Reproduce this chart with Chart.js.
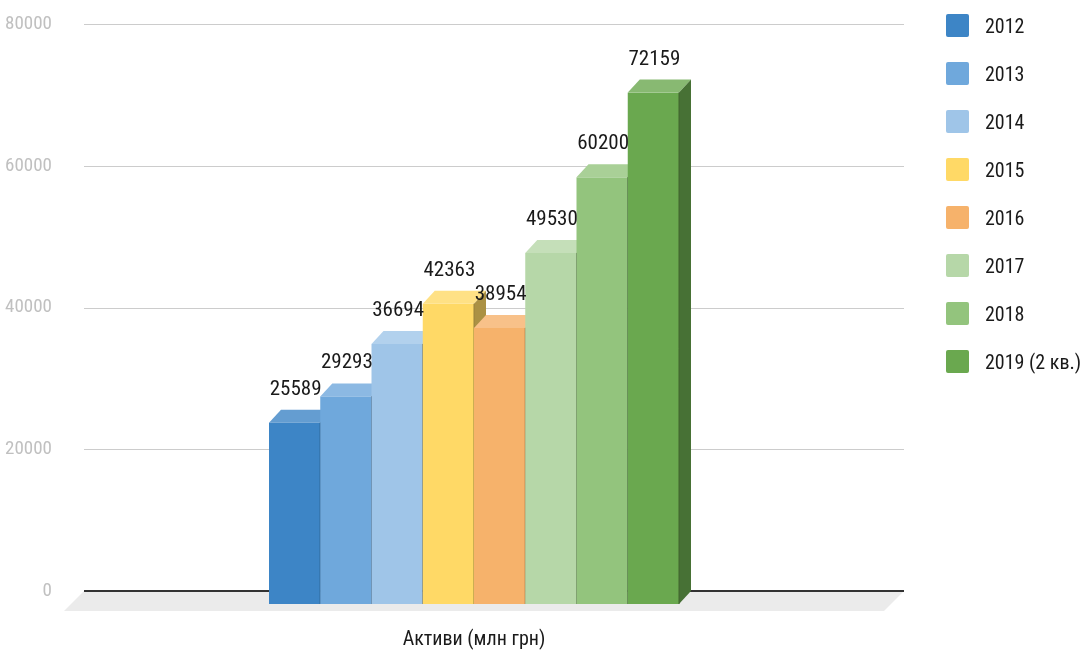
<!DOCTYPE html>
<html>
<head>
<meta charset="utf-8">
<style>
  html, body { margin: 0; padding: 0; background: #ffffff; }
  #wrap { width: 1083px; height: 652px; position: relative; }
</style>
<script src="https://cdn.jsdelivr.net/npm/chart.js@4.4.1/dist/chart.umd.min.js"></script>
</head>
<body>
<div id="wrap"><canvas id="chart" width="1083" height="652"></canvas></div>
<script>
// ---- data ----
const categories   = ['Активи (млн грн)'];
const seriesLabels = ['2012', '2013', '2014', '2015', '2016', '2017', '2018', '2019 (2 кв.)'];
const seriesValues = [25589, 29293, 36694, 42363, 38954, 49530, 60200, 72159];
const seriesColors = ['#3d85c6', '#6fa8dc', '#9fc5e8', '#ffd966', '#f6b26b', '#b6d7a8', '#93c47d', '#6aa84f'];
const yTickValues  = [0, 20000, 40000, 60000, 80000];

// ---- fonts ----
const FONT = '"Roboto Condensed", "Liberation Sans", Arial, sans-serif';
const SZ = { label: 21, legend: 20, tick: 19, cat: 20 };
Chart.defaults.font.family = FONT;

// ---- 3D geometry (style) ----
const DX = 12, DY = 13;     // bar depth offset
const FD = 20;              // floor depth

function mix(hex, t, target) {
  const n = parseInt(hex.slice(1), 16);
  const r = (n >> 16) & 255, g = (n >> 8) & 255, b = n & 255;
  const f = c => Math.round(c + (target - c) * t);
  return 'rgb(' + f(r) + ',' + f(g) + ',' + f(b) + ')';
}

const prism3d = {
  id: 'prism3d',
  beforeDatasetsDraw(chart) {
    const { ctx, chartArea: a, scales: { y } } = chart;
    const b = y.getPixelForValue(0);
    ctx.save();
    ctx.strokeStyle = '#cccccc';
    ctx.lineWidth = 1;
    y.ticks.forEach(t => {
      if (t.value === 0) return;
      const py = Math.round(y.getPixelForValue(t.value)) + 0.5;
      ctx.beginPath(); ctx.moveTo(a.left + FD, py); ctx.lineTo(a.right + FD, py); ctx.stroke();
    });
    ctx.fillStyle = '#ebebeb';
    ctx.beginPath();
    ctx.moveTo(a.left + FD, b); ctx.lineTo(a.right + FD, b);
    ctx.lineTo(a.right, b + FD); ctx.lineTo(a.left, b + FD);
    ctx.closePath(); ctx.fill();
    ctx.strokeStyle = '#333333'; ctx.lineWidth = 2;
    ctx.beginPath(); ctx.moveTo(a.left + FD, b); ctx.lineTo(a.right + FD, b); ctx.stroke();
    ctx.restore();
  },
  beforeDatasetDraw() { return false; },
  afterDatasetsDraw(chart) {
    const ctx = chart.ctx;
    ctx.save();
    chart.data.datasets.forEach((ds, i) => {
      const el = chart.getDatasetMeta(i).data[0];
      if (!el) return;
      const { x, y, base, width } = el;
      const L = x - width / 2, R = x + width / 2;
      const col = ds.backgroundColor;
      // front
      ctx.fillStyle = col;
      ctx.fillRect(L, y + DY, width, base - y);
      // top
      ctx.fillStyle = mix(col, 0.2, 255);
      ctx.beginPath();
      ctx.moveTo(L, y + DY); ctx.lineTo(R, y + DY); ctx.lineTo(R + DX, y); ctx.lineTo(L + DX, y);
      ctx.closePath(); ctx.fill();
      // side
      ctx.fillStyle = mix(col, 0.33, 0);
      ctx.beginPath();
      ctx.moveTo(R, y + DY); ctx.lineTo(R + DX, y); ctx.lineTo(R + DX, base); ctx.lineTo(R, base + DY);
      ctx.closePath(); ctx.fill();
      // edge
      ctx.strokeStyle = mix(col, 0.4, 0);
      ctx.lineWidth = 1;
      ctx.beginPath(); ctx.moveTo(R, y + DY); ctx.lineTo(R, base + DY); ctx.stroke();
    });
    // value labels
    ctx.fillStyle = '#1a1a1a';
    ctx.font = SZ.label + 'px ' + FONT;
    ctx.textAlign = 'center';
    ctx.textBaseline = 'alphabetic';
    chart.data.datasets.forEach((ds, i) => {
      const el = chart.getDatasetMeta(i).data[0];
      if (!el) return;
      ctx.fillText(String(ds.data[0]), el.x + 1, el.y - 15);
    });
    ctx.restore();
  },
  afterDraw(chart) {
    const { ctx, chartArea: a } = chart;
    ctx.save();
    const bx = a.right + 62, y0 = 25.5, step = 48, bs = 23;
    ctx.font = SZ.legend + 'px ' + FONT;
    ctx.textAlign = 'left';
    ctx.textBaseline = 'middle';
    chart.data.datasets.forEach((ds, i) => {
      const cy = y0 + i * step;
      ctx.fillStyle = ds.backgroundColor;
      ctx.beginPath();
      ctx.roundRect(bx, cy - bs / 2, bs, bs, 2);
      ctx.fill();
      ctx.fillStyle = '#1a1a1a';
      ctx.fillText(ds.label, bx + 39, cy + 2);
    });
    ctx.restore();
  }
};

new Chart(document.getElementById('chart'), {
  type: 'bar',
  data: {
    labels: categories,
    datasets: seriesLabels.map((label, i) => ({
      label: label,
      data: [seriesValues[i]],
      backgroundColor: seriesColors[i],
      categoryPercentage: 0.5,
      barPercentage: 1.0
    }))
  },
  options: {
    responsive: false,
    animation: false,
    events: [],
    layout: { padding: { top: 24, left: 0, right: 199, bottom: 0 } },
    plugins: { legend: { display: false }, tooltip: { enabled: false } },
    scales: {
      x: {
        grid: { display: false, drawTicks: false },
        border: { display: false },
        ticks: { color: '#1a1a1a', font: { size: SZ.cat }, padding: 37 },
        afterFit(s) { s.height = 61; }
      },
      y: {
        min: 0,
        max: yTickValues[yTickValues.length - 1],
        afterBuildTicks(s) { s.ticks = yTickValues.map(v => ({ value: v })); },
        grid: { display: false, drawTicks: false },
        border: { display: false },
        ticks: { color: '#c0c0c0', font: { size: SZ.tick }, padding: 12, callback: v => String(v) },
        afterFit(s) { s.width = 64; }
      }
    }
  },
  plugins: [prism3d]
});
</script>
</body>
</html>
